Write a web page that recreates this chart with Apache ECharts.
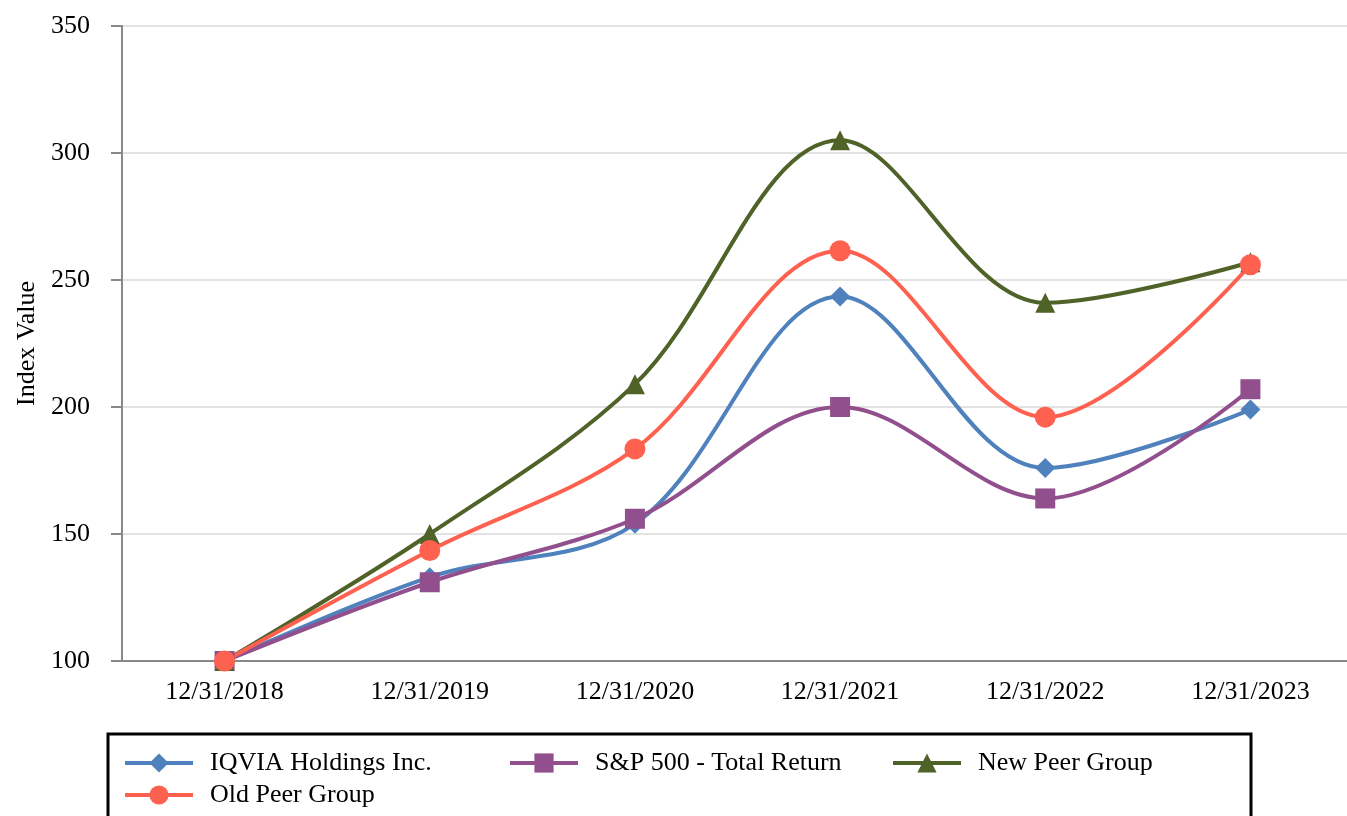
<!DOCTYPE html>
<html>
<head>
<meta charset="utf-8">
<script src="https://cdn.jsdelivr.net/npm/echarts@6/dist/echarts.min.js"></script>
<style>
  html, body { margin: 0; padding: 0; background: #fff; }
  #chart { width: 1347px; height: 816px; }
</style>
</head>
<body>
<div id="chart"></div>
<script>
var categories = ['12/31/2018', '12/31/2019', '12/31/2020', '12/31/2021', '12/31/2022', '12/31/2023'];
var iqvia = [100, 133, 154, 243.5, 176, 199];
var sp500 = [100, 131, 156, 200, 164, 207];
var newPeer = [100, 150, 209, 305, 241, 257];
var oldPeer = [100, 143.5, 183.5, 261.5, 196, 256];
var yTicks = [100, 150, 200, 250, 300, 350];

var font = '"Liberation Serif", "Times New Roman", serif';
var myChart = echarts.init(document.getElementById('chart'));

function makeSeries(name, data, color, symbol, size) {
    return {
        name: name,
        type: 'line',
        data: data,
        smooth: 0.35,
        symbol: symbol,
        symbolSize: size,
        showSymbol: true,
        lineStyle: { color: color, width: 4 },
        itemStyle: { color: color },
        z: 3
    };
}

function legendAt(name, left, top) {
    return {
        data: [name],
        left: left,
        top: top,
        itemWidth: 68,
        itemHeight: 24,
        itemGap: 0,
        padding: 0,
        lineStyle: { width: 4 },
        textStyle: { fontFamily: font, fontSize: 26, color: '#000', padding: [0, 0, 0, 12] },
        selectedMode: false
    };
}

var option = {
    animation: false,
    backgroundColor: '#fff',
    grid: { left: 122, top: 26, width: 1231, bottom: 155, containLabel: false, outerBoundsMode: 'none' },
    xAxis: {
        type: 'category',
        data: categories,
        boundaryGap: true,
        axisLine: { lineStyle: { color: '#888', width: 2 } },
        axisTick: { alignWithLabel: true, length: 10, lineStyle: { color: '#888', width: 2 } },
        axisLabel: { fontFamily: font, fontSize: 26, color: '#000', margin: 18 },
        splitLine: { show: false }
    },
    yAxis: {
        type: 'value',
        min: yTicks[0],
        max: yTicks[yTicks.length - 1],
        interval: 50,
        name: 'Index Value',
        nameLocation: 'middle',
        nameGap: 82,
        nameRotate: 90,
        nameTextStyle: { fontFamily: font, fontSize: 26, color: '#000' },
        axisLine: { show: true, lineStyle: { color: '#888', width: 2 } },
        axisTick: { show: true, length: 11, lineStyle: { color: '#888', width: 2 } },
        axisLabel: { fontFamily: font, fontSize: 26, color: '#000', margin: 32 },
        splitLine: { lineStyle: { color: '#e2e2e2', width: 2 } }
    },
    legend: [
        legendAt('IQVIA Holdings Inc.', 123, 750),
        legendAt('S&P 500 - Total Return', 508, 750),
        legendAt('New Peer Group', 891, 750),
        legendAt('Old Peer Group', 123, 782)
    ],
    graphic: [{
        type: 'rect',
        shape: { x: 108, y: 734, width: 1143, height: 120 },
        style: { fill: 'none', stroke: '#000', lineWidth: 3 },
        silent: true
    }],
    series: [
        makeSeries('IQVIA Holdings Inc.', iqvia, '#4F81BD', 'diamond', 20),
        makeSeries('S&P 500 - Total Return', sp500, '#924F8E', 'rect', 20),
        makeSeries('New Peer Group', newPeer, '#4F6228', 'triangle', 20),
        makeSeries('Old Peer Group', oldPeer, '#FF6150', 'circle', 21)
    ]
};
myChart.setOption(option);
</script>
</body>
</html>
